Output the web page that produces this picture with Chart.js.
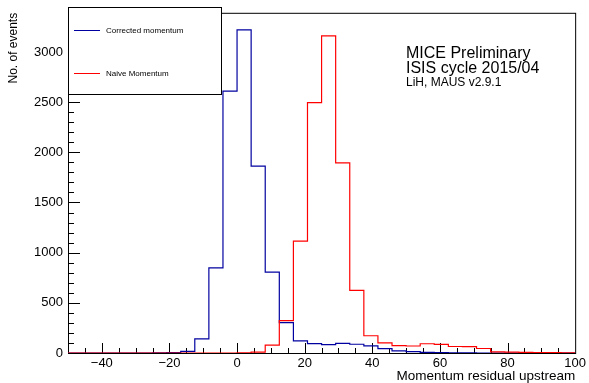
<!DOCTYPE html>
<html>
<head>
<meta charset="utf-8">
<script src="https://cdn.jsdelivr.net/npm/chart.js@4.4.1/dist/chart.umd.min.js"></script>
<style>
  body { margin: 0; background: #fff; }
</style>
</head>
<body>
<canvas id="chart" width="589" height="383"></canvas>
<script>
// histogram range, 36 bins from -50 to 100
const xMin = -50;
const xMax = 100;
const nBins = 36;

const correctedCounts = [0, 0, 0, 0, 0, 0, 1, 4, 16, 140, 848, 2610,
                         3220, 1862, 805, 302, 120, 94, 84, 95, 87, 71, 44, 22,
                         13, 6, 3, 2, 1, 0, 0, 0, 0, 0, 0, 0];
const naiveCounts = [0, 0, 0, 0, 0, 0, 0, 0, 0, 0, 0, 0,
                     2, 9, 78, 322, 1115, 2495, 3160, 1895, 625, 172, 100, 73,
                     70, 92, 85, 65, 64, 45, 11, 8, 6, 4, 3, 2];

const seriesNames = ['Corrected momentum', 'Naive Momentum'];
const seriesColors = ['#0000a0', '#ff0000'];

const xTickLabels = [-40, -20, 0, 20, 40, 60, 80, 100];
const yTickLabels = [0, 500, 1000, 1500, 2000, 2500, 3000];
const yMax = 3390;

const infoLines = ['MICE Preliminary', 'ISIS cycle 2015/04', 'LiH, MAUS v2.9.1'];

const FONT = '"Liberation Sans", Arial, Helvetica, sans-serif';

// points at bin low edges + closing point at the upper edge
function histPoints(counts) {
    const w = (xMax - xMin) / nBins;
    const pts = counts.map((c, i) => ({ x: xMin + i * w, y: c }));
    pts.push({ x: xMax, y: counts[counts.length - 1] });
    return pts;
}

// ROOT style frame + inside ticks
const rootFrame = {
    id: 'rootFrame',
    beforeDatasetsDraw(chart) {
        const { ctx, chartArea: { left, right, top, bottom }, scales: { x, y } } = chart;
        ctx.save();
        ctx.strokeStyle = '#000';
        ctx.lineWidth = 1;
        ctx.strokeRect(left + 0.5, top + 0.5, right - left, bottom - top);

        ctx.beginPath();
        for (let v = xMin + 5; v < xMax; v += 5) {
            const px = Math.round(x.getPixelForValue(v)) + 0.5;
            const len = v % 20 === 0 ? 10 : 5;
            ctx.moveTo(px, bottom);
            ctx.lineTo(px, bottom - len);
        }
        for (let v = 100; v < yMax; v += 100) {
            const py = Math.round(y.getPixelForValue(v)) + 0.5;
            const len = v % 500 === 0 ? 12 : 6;
            ctx.moveTo(left, py);
            ctx.lineTo(left + len, py);
        }
        ctx.stroke();
        ctx.restore();
    },
    afterDraw(chart) {
        const { ctx, chartArea: { left } } = chart;
        ctx.save();

        // legend box
        ctx.fillStyle = '#fff';
        ctx.fillRect(left, 7, 153, 87);
        ctx.strokeStyle = '#000';
        ctx.lineWidth = 1;
        ctx.strokeRect(left + 0.5, 7.5, 153, 87);

        ctx.font = '8px ' + FONT;
        ctx.textBaseline = 'middle';
        chart.data.datasets.forEach((ds, i) => {
            const ly = i === 0 ? 30.5 : 73.5;
            ctx.strokeStyle = ds.borderColor;
            ctx.beginPath();
            ctx.moveTo(left + 6, ly);
            ctx.lineTo(left + 32, ly);
            ctx.stroke();
            ctx.fillStyle = '#000';
            ctx.fillText(ds.label, left + 38, ly);
        });

        // MICE labels
        ctx.textBaseline = 'alphabetic';
        ctx.fillStyle = '#000';
        ctx.font = '16px ' + FONT;
        ctx.fillText(infoLines[0], left + 338, 58);
        ctx.fillText(infoLines[1], left + 338, 73);
        ctx.font = '12px ' + FONT;
        ctx.fillText(infoLines[2], left + 338, 86);
        ctx.restore();
    }
};

const chartContainer = document.querySelector('#chart');

const histChart = new Chart(chartContainer, {
    type: 'line',
    data: {
        datasets: [
            {
                label: seriesNames[0],
                data: histPoints(correctedCounts),
                borderColor: seriesColors[0],
                borderWidth: 1.2,
                stepped: 'before',
                pointRadius: 0,
                fill: false,
                order: 1
            },
            {
                label: seriesNames[1],
                data: histPoints(naiveCounts),
                borderColor: seriesColors[1],
                borderWidth: 1.2,
                stepped: 'before',
                pointRadius: 0,
                fill: false,
                order: 0
            }
        ]
    },
    options: {
        responsive: false,
        animation: false,
        layout: { padding: { top: 7, right: 11, left: 0, bottom: 0 } },
        plugins: {
            legend: { display: false },
            tooltip: { enabled: false }
        },
        scales: {
            x: {
                type: 'linear',
                min: xMin,
                max: xMax,
                grid: { display: false, drawTicks: false },
                border: { display: false },
                afterBuildTicks: s => { s.ticks = xTickLabels.map(v => ({ value: v })); },
                afterFit: s => { s.height = 30; },
                ticks: {
                    padding: 3,
                    color: '#000',
                    font: { family: FONT, size: 13 },
                    maxRotation: 0,
                    callback: v => String(v).replace('-', '\u2212')
                },
                title: {
                    display: true,
                    text: 'Momentum residual upstream',
                    align: 'end',
                    color: '#000',
                    padding: { top: 0, bottom: -1 },
                    font: { family: FONT, size: 13.5 }
                }
            },
            y: {
                min: 0,
                max: yMax,
                grid: { display: false, drawTicks: false },
                border: { display: false },
                afterBuildTicks: s => { s.ticks = yTickLabels.map(v => ({ value: v })); },
                afterFit: s => { s.width = 68; },
                ticks: {
                    padding: 5,
                    color: '#000',
                    font: { family: FONT, size: 13 },
                    callback: v => String(v)
                },
                title: {
                    display: true,
                    text: 'No. of events',
                    align: 'end',
                    color: '#000',
                    padding: { top: 6, bottom: 0 },
                    font: { family: FONT, size: 12 }
                }
            }
        }
    },
    plugins: [rootFrame]
});
</script>
</body>
</html>
